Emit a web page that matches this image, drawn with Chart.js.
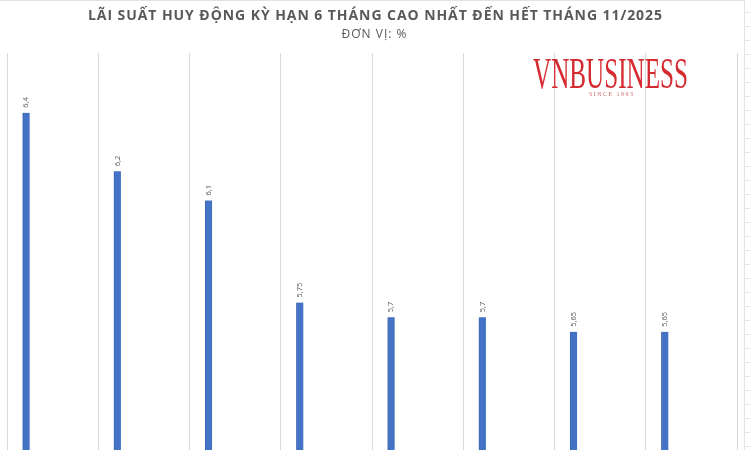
<!DOCTYPE html>
<html>
<head>
<meta charset="utf-8">
<script src="https://cdn.jsdelivr.net/npm/chart.js@4"></script>
<style>
  html, body { margin: 0; padding: 0; background: #fff; }
  #wrap { width: 750px; height: 450px; }
</style>
</head>
<body>
<div id="wrap"><canvas id="chart" width="750" height="450"></canvas></div>
<script>
// bank labels are cut off in the source picture, so they stay hidden
const categories = ['1', '2', '3', '4', '5', '6', '7', '8'];
const rates = [6.4, 6.2, 6.1, 5.75, 5.7, 5.7, 5.65, 5.65];
const titleText = 'LÃI SUẤT HUY ĐỘNG KỲ HẠN 6 THÁNG CAO NHẤT ĐẾN HẾT THÁNG 11/2025';
const subtitleText = 'ĐƠN VỊ: %';

/**
 * Draw text centred at x, stretched with letter spacing to a given width.
 */
function SpacedText(ctx, text, x, y, width) {
    ctx.letterSpacing = '0px';
    let w = ctx.measureText(text).width;
    let sp = (width - w) / (text.length - 1);
    ctx.letterSpacing = sp + 'px';
    ctx.textAlign = 'left';
    ctx.fillText(text, x - width / 2, y);
    ctx.letterSpacing = '0px';
}

const decor = {
    id: 'decor',
    beforeDraw: (chart) => {
        const ctx = chart.ctx;
        ctx.save();
        ctx.fillStyle = '#fff';
        ctx.fillRect(0, 0, chart.width, chart.height);
        // sheet edges
        ctx.strokeStyle = '#e3e3e3';
        ctx.lineWidth = 1;
        ctx.beginPath();
        ctx.moveTo(0, 0.5); ctx.lineTo(744, 0.5);
        ctx.moveTo(744.5, 0); ctx.lineTo(744.5, 450);
        for (let y = 12; y < 450; y += 14) {
            ctx.moveTo(745, y + 0.5); ctx.lineTo(750, y + 0.5);
        }
        ctx.stroke();

        ctx.fillStyle = '#595959';
        ctx.textBaseline = 'middle';
        ctx.font = 'bold 14px "Open Sans"';
        SpacedText(ctx, titleText, 375, 16, 574);
        ctx.font = '12px "Open Sans"';
        SpacedText(ctx, subtitleText, 374, 35, 65);
        ctx.restore();
    },
    afterDatasetsDraw: (chart) => {
        const ctx = chart.ctx;
        const meta = chart.getDatasetMeta(0);
        ctx.save();
        ctx.fillStyle = '#595959';
        ctx.font = '7.5px "Open Sans"';
        ctx.textAlign = 'left';
        ctx.textBaseline = 'middle';
        meta.data.forEach((bar, i) => {
            ctx.save();
            ctx.translate(bar.x, bar.y - 5);
            ctx.rotate(-Math.PI / 2);
            ctx.fillText(String(rates[i]).replace('.', ','), 0, 0);
            ctx.restore();
        });

        // watermark
        ctx.fillStyle = '#d42a30';
        ctx.textBaseline = 'alphabetic';
        ctx.save();
        ctx.translate(533, 88);
        ctx.font = '44px "Liberation Serif"';
        let w = ctx.measureText('VNBUSINESS').width;
        ctx.scale(155 / w, 1);
        ctx.fillText('VNBUSINESS', 0, 0);
        ctx.restore();
        ctx.fillStyle = '#d46a6e';
        ctx.font = '6px "Liberation Serif"';
        SpacedText(ctx, 'SINCE 1993', 611, 96, 44);
        ctx.restore();
    }
};

new Chart(document.getElementById('chart'), {
    type: 'bar',
    data: {
        datasets: [{
            label: 'Lãi suất',
            data: rates.map((v, i) => ({x: i + 0.21, y: v})),
            backgroundColor: '#4472c4',
            borderColor: '#3a65b3',
            borderWidth: {left: 1, right: 0, top: 0, bottom: 0},
            barThickness: 7
        }]
    },
    options: {
        responsive: false,
        animation: false,
        layout: {padding: {top: 53, left: 7, right: 13, bottom: 0}},
        plugins: {legend: {display: false}, tooltip: {enabled: false}},
        scales: {
            x: {
                type: 'linear',
                offset: false,
                min: 0,
                max: categories.length,
                ticks: {display: false, stepSize: 1},
                grid: {color: '#d9d9d9', drawTicks: false, offset: false},
                border: {display: false}
            },
            y: {
                display: false,
                min: 5.245,
                max: 6.605
            }
        }
    },
    plugins: [decor]
});
</script>
</body>
</html>
